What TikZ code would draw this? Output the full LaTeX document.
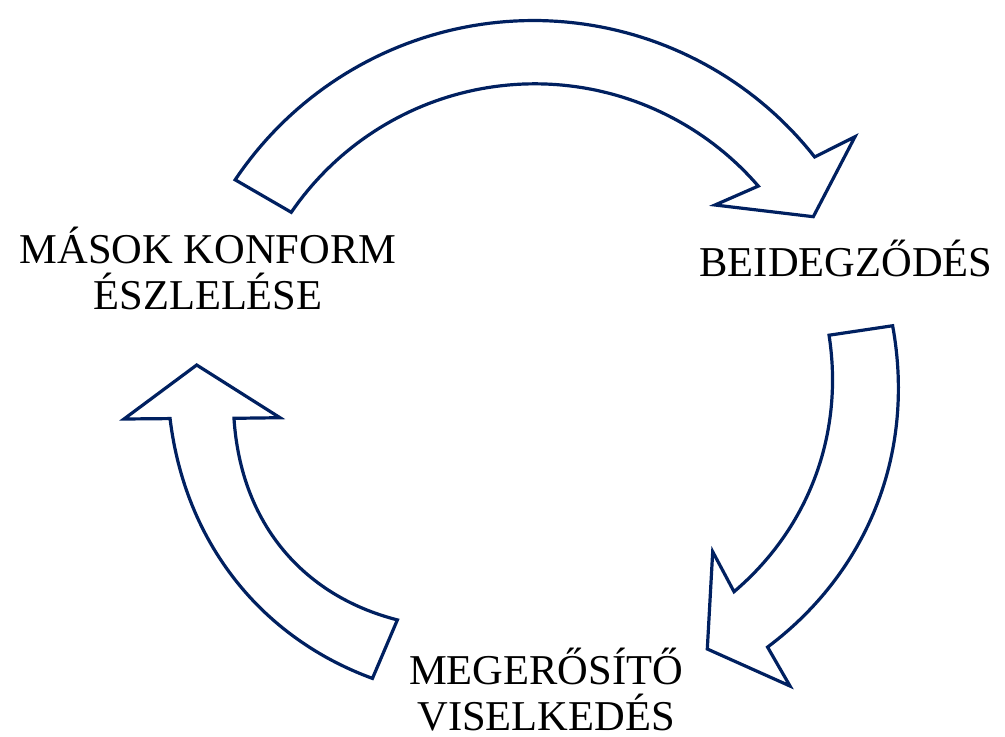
\documentclass[tikz,border=0pt]{standalone}
\usepackage{fontspec}
\setmainfont{Liberation Serif}
\definecolor{navy}{RGB}{0,32,96}
\begin{document}
\begin{tikzpicture}[x=1pt,y=-1pt,
  arrowshape/.style={draw=navy, line width=3.2pt, line join=miter, fill=white},
  lbl/.style={font=\fontsize{42.5}{46}\selectfont, align=center, inner sep=0pt, text=black}
]
\useasboundingbox (0,0) rectangle (1005,737);
% top arrow
\draw[arrowshape]
  plot[domain=0:1, samples=80, variable=\s]
    ({535+(360-2.9*\s)*cos(-146.4+108.03*\s)},{379+(360-2.9*\s)*sin(-146.4+108.03*\s)})
  -- (855,136.7) -- (813.3,216.7) -- (715,205)
  -- plot[domain=1:0, samples=80, variable=\s]
    ({535+(295.3-0.2*\s)*cos(-145.7+104.87*\s)},{379+(295.3-0.2*\s)*sin(-145.7+104.87*\s)})
  -- cycle;
% right arrow
\draw[arrowshape]
  plot[domain=0:1, samples=60, variable=\s]
    ({535+(361.6-6.7*\s+6*sin(180*\s))*cos(-8.47+57.57*\s)},{379+(361.6-6.7*\s+6*sin(180*\s))*sin(-8.47+57.57*\s)})
  -- (790,686) -- (707.3,649) -- (712.7,551.7)
  -- plot[domain=1:0, samples=60, variable=\s]
    ({535+(297.3-6*\s+2.5*sin(180*\s))*cos(-8.51+55.41*\s)},{379+(297.3-6*\s+2.5*sin(180*\s))*sin(-8.51+55.41*\s)})
  -- cycle;
% left arrow
\draw[arrowshape]
  plot[domain=0:1, samples=60, variable=\s]
    ({535+(340.7+26.4*\s+7*sin(180*\s))*cos(118.5+55.35*\s)},{379+(340.7+26.4*\s+7*sin(180*\s))*sin(118.5+55.35*\s)})
  -- (124,419) -- (196.7,365) -- (280,417.7)
  -- plot[domain=1:0, samples=60, variable=\s]
    ({535+(277.4+26.2*\s+14*sin(180*\s))*cos(119.7+52.86*\s)},{379+(277.4+26.2*\s+14*sin(180*\s))*sin(119.7+52.86*\s)})
  -- cycle;
% labels (base anchor = baseline of last line)
\node[lbl, anchor=base] (masok) at (208,309.7) {MÁSOK KONFORM\\ÉSZLELÉSE};
\node[lbl, anchor=base] (beid) at (846,276.7) {BEIDEGZŐDÉS};
\node[lbl, anchor=base, text depth=0pt] (meger) at (546,730) {MEGERŐSÍTŐ\\VISELKEDÉS};
\end{tikzpicture}
\end{document}
